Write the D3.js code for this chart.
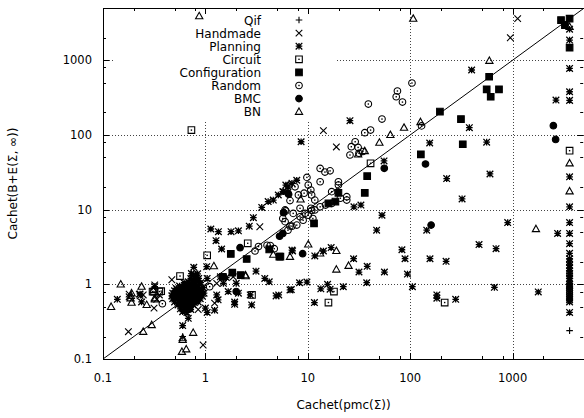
<!DOCTYPE html>
<html>
<head>
<meta charset="utf-8">
<script src="https://cdn.jsdelivr.net/npm/d3@7"></script>
<style>
  body { margin: 0; background: #fff; }
  text { font-family: "DejaVu Sans", sans-serif; fill: #000; }
</style>
</head>
<body>
<script>
// values, [pmc, B+E] pairs
const qif = [[0.6,0.2],[3600,0.24]]
const handmade = [[1120,3600],[950,2000],[14.2,114],[3.4,5.9],[1.29,1.03],[1.87,1.26],[0.18,0.74],[0.226,0.74],
  [0.247,0.72],[0.315,0.48],[0.355,0.72],[0.177,0.232],[0.95,0.154],[0.85,0.46],[0.32,0.98],[0.335,0.63],
  [0.18,0.68],[0.47,1.15],[1.23,0.56],[19,69],[0.23,0.7]]
const planning = [[3.55,10.7],[4.1,12.8],[4.6,13.4],[5.15,15.7],[5.8,17.4],[6.4,20.2],[7.0,22.5],[7.8,24.7],
  [6.1,21.3],[5.7,17.4],[8.6,81],[25.8,155],[398,740],[2650,293],[378,125],[558,80],[155,78],[55.5,44.8],
  [28.2,10.9],[33,11.5],[601,30],[227,26],[321,13.9],[2750,4.8],[895,6.7],[470,3.4],[689,3.0],[145,5.3],
  [156,2.2],[224,2.03],[83,2.9],[89,2.2],[94,1.37],[105,0.93],[182,0.72],[182,0.65],[278,0.63],[664,0.91],
  [1780,0.79],[53,8.4],[47,5.3],[28,2.2],[38,1.74],[31.6,1.46],[56,1.46],[37.6,1.05],[16.9,3.1],[14.2,2.79],
  [11.7,2.4],[7.1,2.8],[8.3,1.05],[9.8,1.07],[6.9,0.85],[13.4,0.87],[15.6,1.0],[16.5,0.86],[22.2,0.93],
  [11.6,0.57],[7.0,2.87],[1.13,5.5],[1.34,5.06],[1.78,5.06],[2.1,5.2],[2.68,6.0],[2.94,7.8],[1.27,3.84],
  [1.44,2.97],[3.12,1.5],[0.77,1.69],[1.03,1.72],[1.6,1.23],[3.8,1.2],[4.2,1.08],[4.9,0.7],[6.7,0.84],
  [0.87,1.01],[0.138,0.63],[0.238,0.58],[0.6,0.28],[0.68,0.35],[1.0,0.48],[1.33,0.62],[1.93,0.54],[2.83,0.53],
  [5.2,0.72],[1.29,0.72],[1.04,1.2],[1.4,1.26],[1.5,1.03],[1.67,0.8],[2.0,1.03],[2.1,0.76],[1.93,0.58],
  [2.74,0.72],[1.23,0.45],[1.04,0.42],[0.23,0.74],[0.32,0.93],[0.73,1.39]]
const planningTimeouts = [[3600,2600],[3600,1860],[3600,777],[3600,378],[3600,290],[3600,27.5],[3600,10.9],
  [3600,6.7],[3600,4.8],[3600,3.5],[3600,2.6],[3600,2.2],[3600,2.0],[3600,1.8],[3600,1.65],[3600,1.5],
  [3600,1.4],[3600,1.3],[3600,1.2],[3600,1.1],[3600,1.0],[3600,0.95],[3600,0.9],[3600,0.85],[3600,0.8],
  [3600,0.75],[3600,0.7],[3600,0.66],[3600,0.62],[3600,0.58],[3600,0.42]]
// the dense clump around 0.6 s
const planningBlob = [[0.76,1.35],[0.84,1.38],[0.8,1.3],[0.72,1.2],[0.8,1.25],[0.86,1.2],[0.77,1.15],
  [0.62,1.05],[0.68,1.08],[0.75,1.05],[0.82,1.1],[0.9,1.05],[0.66,1.0],[0.73,1.01],[0.8,1.0],
  [0.56,0.95],[0.64,0.97],[0.71,0.95],[0.78,0.97],[0.86,0.95],[0.6,0.92],[0.67,0.93],[0.75,0.92],
  [0.52,0.88],[0.57,0.9],[0.62,0.87],[0.68,0.9],[0.74,0.88],[0.8,0.9],[0.88,0.87],[0.95,0.9],
  [0.5,0.82],[0.55,0.8],[0.6,0.83],[0.66,0.81],[0.72,0.83],[0.78,0.8],[0.84,0.82],[0.92,0.8],
  [0.53,0.85],[0.64,0.78],[0.7,0.79],[0.58,0.79],[0.81,0.78],
  [0.48,0.76],[0.53,0.77],[0.58,0.75],[0.63,0.77],[0.69,0.75],[0.75,0.77],[0.82,0.75],[0.9,0.77],[0.97,0.76],
  [0.5,0.73],[0.6,0.72],[0.65,0.73],[0.71,0.72],[0.77,0.73],[0.55,0.72],[0.84,0.72],
  [0.47,0.7],[0.52,0.69],[0.57,0.71],[0.62,0.69],[0.67,0.71],[0.73,0.69],[0.79,0.71],[0.86,0.69],[0.93,0.7],
  [0.55,0.67],[0.6,0.66],[0.66,0.67],[0.71,0.66],[0.77,0.67],[0.5,0.66],
  [0.48,0.64],[0.53,0.65],[0.58,0.63],[0.63,0.65],[0.69,0.63],[0.75,0.65],[0.82,0.63],[0.89,0.64],
  [0.56,0.61],[0.61,0.6],[0.66,0.61],[0.72,0.61],[0.79,0.6],
  [0.5,0.58],[0.55,0.57],[0.6,0.59],[0.66,0.57],[0.72,0.59],[0.78,0.57],[0.85,0.58],
  [0.54,0.53],[0.59,0.52],[0.64,0.54],[0.7,0.52],[0.76,0.53],[0.62,0.55],[0.68,0.55],
  [0.57,0.47],[0.62,0.46],[0.67,0.47],[0.72,0.46],[0.6,0.43],[0.66,0.42],[0.64,0.49],[0.7,0.49]]
const circuit = [[0.73,116],[3600,61.5],[217,0.57],[15.9,0.57],[18,0.8],[41,41.7],[2.59,3.54],[1.04,2.44],
  [0.565,1.29],[0.315,0.8],[2.85,0.72],[0.305,0.8],[0.355,0.8],[0.37,0.81]]
const configuration = [[2970,3450],[3240,2950],[3600,3600],[3600,1470],[590,601],[558,408],[736,408],[611,324],
  [195,205],[313,163],[326,75],[127,55],[38,28],[36,16.8],[19.9,16.8],[15.9,12.1],[18.6,12.8],[11.5,6.56],
  [5.4,2.34],[1.77,2.55],[2.53,2.18],[5.27,2.34],[4.2,2.93],[1.48,1.26],[1.83,1.43],[2.21,1.33]]
const random = [[104,495],[75,387],[73,324],[84,275],[39,259],[53,163],[36,107],[41,116],[129,132],[29,81],
  [26.6,69.5],[31,68],[16.5,33],[13.2,35.6],[14.7,31.8],[9.8,27],[13.2,23.6],[19.9,23.6],[19.9,21.3],[24,14.9],
  [24,13.4],[25.8,53.8],[17.1,17.4],[10.1,21.3],[6.7,13.2],[8.1,15.7],[10.7,18.3],[10.9,9.7],[8.4,10.4],
  [7.2,8.9],[6.7,6.03],[7.8,6.2],[6.1,9.6],[11.7,13.4],[10.9,15.7],[9.2,16.6],[6.6,21.3],[7.5,20.2],[6.0,9.9],
  [3.05,2.79],[3.3,3.2],[4.0,3.33],[4.3,3.3],[4.7,3.0],[0.38,0.55],[1.1,0.93],[5.7,7.6],[6.0,6.9],[6.4,5.3],
  [7.0,6.0],[8.4,8.0],[9.4,8.9],[9.0,7.2],[10.1,8.4],[10.7,10.4],[11.7,9.9],[13.2,10.9],[14.9,11.5],
  [17.1,12.1],[20.8,14.2],[11.2,7.6],[34.5,60],[31.6,56.7]]
const bmc = [[2500,133],[2630,87],[141,40.8],[160,6.2],[55.8,35.7],[8.9,2.57],[6.5,16],[5.8,9.1],[6.4,16.6],
  [2.18,3.09],[2.0,0.8],[5.7,4.8],[5.3,4.4]]
const bn = [[0.87,3900],[107,3600],[593,985],[126,149],[87,125],[64,100],[50,79],[3600,2810],[3600,41.7],
  [3600,17.6],[1690,5.5],[19,1.58],[25,1.77],[19,2.8],[13.2,2.6],[10.1,3.43],[6.7,2.34],[8.5,13.7],[31,55],
  [36,61],[4.6,2.5],[2.47,1.29],[1.21,1.75],[0.149,1.0],[0.187,0.7],[0.12,0.5],[0.186,0.65],[0.19,0.57],
  [0.267,0.53],[0.322,0.63],[0.247,0.232],[0.299,0.285],[0.6,0.19],[0.6,0.18],[0.59,0.125],[0.65,0.135],
  [0.76,0.225],[2.46,1.33],[0.238,0.93],[0.32,0.65],[0.19,0.76],[0.31,0.84]]

const seriesNames = ["Qif", "Handmade", "Planning", "Circuit", "Configuration", "Random", "BMC", "BN"]
const seriesMarks = ["plus", "times", "star", "boxDot", "boxFill", "circleDot", "circleFill", "triangle"]
const seriesData = [qif, handmade, planning.concat(planningTimeouts, planningBlob), circuit, configuration, random, bmc, bn]

const majorTicks = [0.1, 1, 10, 100, 1000]
const majorLabels = ["0.1", "1", "10", "100", "1000"]
const minorSteps = [2, 5, 8]
const gridTicks = [1, 10, 100, 1000]
const xTitle = "Cachet(pmc(Σ))"
const yTitle = "Cachet(B+E(Σ, ∞))"

const width = 584
const height = 418
const plot = {left: 103, right: 584.2, top: 8, bottom: 359}

const x = d3.scaleLog().domain([0.1, 5000]).range([plot.left, plot.right])
const y = d3.scaleLog().domain([0.1, 5000]).range([plot.bottom, plot.top])

const svg = d3.select("body").append("svg")
    .attr("width", width)
    .attr("height", height)

// dotted grid
const grid = svg.append("g")
    .attr("stroke", "#444")
    .attr("stroke-dasharray", "1,2")
    .attr("fill", "none")
grid.selectAll("line.gx").data(gridTicks).join("line")
    .attr("class", "gx")
    .attr("x1", d => Math.round(x(d)) + 0.5).attr("x2", d => Math.round(x(d)) + 0.5)
    .attr("y1", plot.top).attr("y2", plot.bottom)
grid.selectAll("line.gy").data(gridTicks).join("line")
    .attr("class", "gy")
    .attr("y1", d => Math.round(y(d)) + 0.5).attr("y2", d => Math.round(y(d)) + 0.5)
    .attr("x1", plot.left).attr("x2", plot.right)

// opaque key background
const key = {labelX: 261, markX: 299, top: 20, step: 13.1}
svg.append("rect")
    .attr("x", 113).attr("y", plot.top + 1)
    .attr("width", 222).attr("height", 111)
    .attr("fill", "#fff")

// frame and ticks
const minorTicks = majorTicks.flatMap(d => minorSteps.map(m => d * m)).filter(d => d < 5000)
const axes = svg.append("g").attr("stroke", "#000").attr("stroke-width", 1)
axes.append("rect")
    .attr("x", plot.left + 0.5).attr("y", plot.top + 0.5)
    .attr("width", plot.right - plot.left).attr("height", plot.bottom - plot.top)
    .attr("fill", "none")

const tickSet = [...majorTicks.map(v => ({v, len: 6})), ...minorTicks.map(v => ({v, len: 3}))]
tickSet.forEach(t => {
    const px = Math.round(x(t.v)) + 0.5
    const py = Math.round(y(t.v)) + 0.5
    axes.append("line").attr("x1", px).attr("x2", px).attr("y1", plot.bottom).attr("y2", plot.bottom - t.len)
    axes.append("line").attr("x1", px).attr("x2", px).attr("y1", plot.top).attr("y2", plot.top + t.len)
    axes.append("line").attr("y1", py).attr("y2", py).attr("x1", plot.left).attr("x2", plot.left + t.len)
    axes.append("line").attr("y1", py).attr("y2", py).attr("x1", plot.right - 1).attr("x2", plot.right - 1 - t.len)
})

svg.append("g").selectAll("text").data(majorTicks).join("text")
    .attr("x", d => x(d))
    .attr("y", 382)
    .attr("text-anchor", "middle")
    .style("font-size", "11.5px")
    .text((d, i) => majorLabels[i])

svg.append("g").selectAll("text").data(majorTicks).join("text")
    .attr("x", 92)
    .attr("y", d => y(d) + 4)
    .attr("text-anchor", "end")
    .style("font-size", "11.5px")
    .text((d, i) => majorLabels[i])

svg.append("text")
    .attr("x", (plot.left + plot.right) / 2)
    .attr("y", 409)
    .attr("text-anchor", "middle")
    .style("font-size", "12px")
    .text(xTitle)

svg.append("text")
    .attr("transform", "translate(17," + (plot.top + plot.bottom) / 2 + ") rotate(-90)")
    .attr("text-anchor", "middle")
    .style("font-size", "12px")
    .text(yTitle)

// y = x
svg.append("line")
    .attr("x1", x(0.1)).attr("y1", y(0.1))
    .attr("x2", x(5000)).attr("y2", y(5000))
    .attr("stroke", "#000")

// point types, gnuplot style
const s = 3.3
const markPath = {
    plus: `M${-s},0H${s}M0,${-s}V${s}`,
    times: `M${-s},${-s}L${s},${s}M${-s},${s}L${s},${-s}`,
    star: `M${-s},0H${s}M0,${-s}V${s}M${-s},${-s}L${s},${s}M${-s},${s}L${s},${-s}`,
    boxDot: `M${-s},${-s}H${s}V${s}H${-s}Z`,
    boxFill: `M${-s},${-s}H${s}V${s}H${-s}Z`,
    triangle: `M0,${-s * 1.15}L${s * 1.1},${s * 0.8}H${-s * 1.1}Z`
}

const drawMark = (g, type) => {
    if (type === "circleDot" || type === "circleFill") {
        g.append("circle").attr("r", s)
            .attr("fill", type === "circleFill" ? "#000" : "none")
            .attr("stroke", "#000")
            .attr("stroke-width", 1.1)
    } else {
        g.append("path").attr("d", markPath[type])
            .attr("fill", type === "boxFill" ? "#000" : "none")
            .attr("stroke", "#000")
            .attr("stroke-width", type === "star" ? 1.3 : 1.1)
    }
    if (type === "boxDot" || type === "circleDot") {
        g.append("rect").attr("x", -0.7).attr("y", -0.7).attr("width", 1.4).attr("height", 1.4).attr("fill", "#000")
    }
}

const points = svg.append("g").attr("class", "points")
seriesData.forEach((arr, i) => {
    points.append("g")
        .selectAll("g")
        .data(arr)
        .join("g")
        .attr("transform", d => "translate(" + x(d[0]) + "," + y(d[1]) + ")")
        .each(function () { drawMark(d3.select(this), seriesMarks[i]) })
})

// key
const legend = svg.append("g")
seriesNames.forEach((name, i) => {
    const cy = key.top + i * key.step
    legend.append("text")
        .attr("x", key.labelX)
        .attr("y", cy + 4.5)
        .attr("text-anchor", "end")
        .style("font-size", "12px")
        .text(name)
    drawMark(legend.append("g").attr("transform", "translate(" + key.markX + "," + cy + ")"), seriesMarks[i])
})
</script>
</body>
</html>
